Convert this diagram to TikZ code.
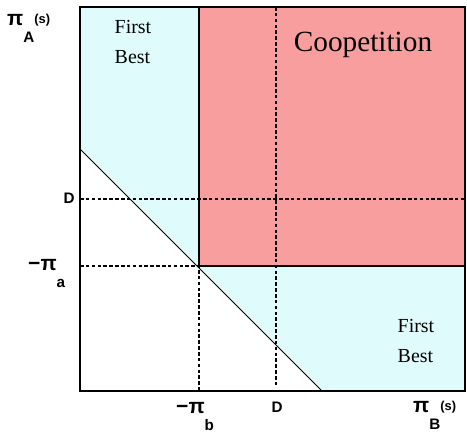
\documentclass[tikz,border=0pt]{standalone}
\usepackage{fontspec}
\setmainfont{Liberation Serif}
\newfontfamily\axfont{Liberation Sans}
\usepackage{tikz}

\definecolor{coopred}{RGB}{248,158,158}
\definecolor{bestcyan}{RGB}{224,251,251}

\tikzset{
  frame/.style={line width=1.2pt},
  guide/.style={dash pattern=on 3pt off 2pt, line width=1pt},
  ticklab/.style={inner sep=0pt, font=\axfont\bfseries\fontsize{13}{15}\selectfont},
  pilab/.style={inner sep=0pt, anchor=base west, font=\axfont\bfseries\fontsize{18}{18}\selectfont},
  regionlab/.style={align=left, font=\fontsize{17}{26}\selectfont},
}
\newcommand{\lowlab}[1]{\raisebox{-15pt}{\fontsize{13}{13}\selectfont #1}}
\newcommand{\uplab}[1]{\raisebox{1pt}{\fontsize{11}{11}\selectfont #1}}

\begin{document}
\begin{tikzpicture}[x=0.03cm, y=-0.03cm]
            \useasboundingbox (0,0) rectangle (467,435);

            % corners and ticks
            \coordinate (orig) at (80,391);
            \coordinate (tl) at (80,7);
            \coordinate (tr) at (465,7);
            \coordinate (br) at (465,391);
            \coordinate (pbtop) at (199,7);
            \coordinate (pbaxis) at (199,391);
            \coordinate (paaxis) at (80,266);
            \coordinate (kink) at (199,266);
            \coordinate (paright) at (465,266);
            \coordinate (dleft) at (80,199);
            \coordinate (dright) at (465,199);
            \coordinate (dtop) at (276,7);
            \coordinate (dbot) at (276,385);
            \coordinate (diagstart) at (80,149);
            \coordinate (diagend) at (322,391);

            % regions
            \fill[bestcyan] (tl) -- (pbtop) -- (kink) -- (paright) -- (br) -- (diagend) -- (diagstart) -- cycle;
            \fill[coopred] (pbtop) rectangle (paright);

            % guides
            \draw[guide] (paaxis) -- (kink) -- (pbaxis);
            \draw[guide] (dleft) -- (dright);
            \draw[guide] (dtop) -- (dbot);
            \draw[line width=0.8pt] (diagstart) -- (diagend);

            % frame
            \draw[line width=1pt] (pbtop) -- (kink) -- (paright);
            \draw[frame] (tl) rectangle (br);
            \draw[line width=2.2pt] (pbtop) -- (tr);

            % labels
            \node[pilab] (piA) at (7,25) {π\lowlab{A}\uplab{(s)}};
            \node[pilab] (piB) at (413,412) {π\lowlab{B}\uplab{(s)}};
            \node[pilab] (mpia) at (28,270) {−π\lowlab{a}};
            \node[pilab] (mpib) at (176,413) {−π\lowlab{b}};
            \node[ticklab] (dA) at (69,198) {D};
            \node[ticklab] (dB) at (277,407) {D};

            \node[regionlab] (bestTop) at (133,42) {First\\Best};
            \node[regionlab] (bestBot) at (416,341) {First\\Best};
            \node[font=\fontsize{25}{30}\selectfont] (coop) at (363,45) {Coopetition};
         \end{tikzpicture}
\end{document}
